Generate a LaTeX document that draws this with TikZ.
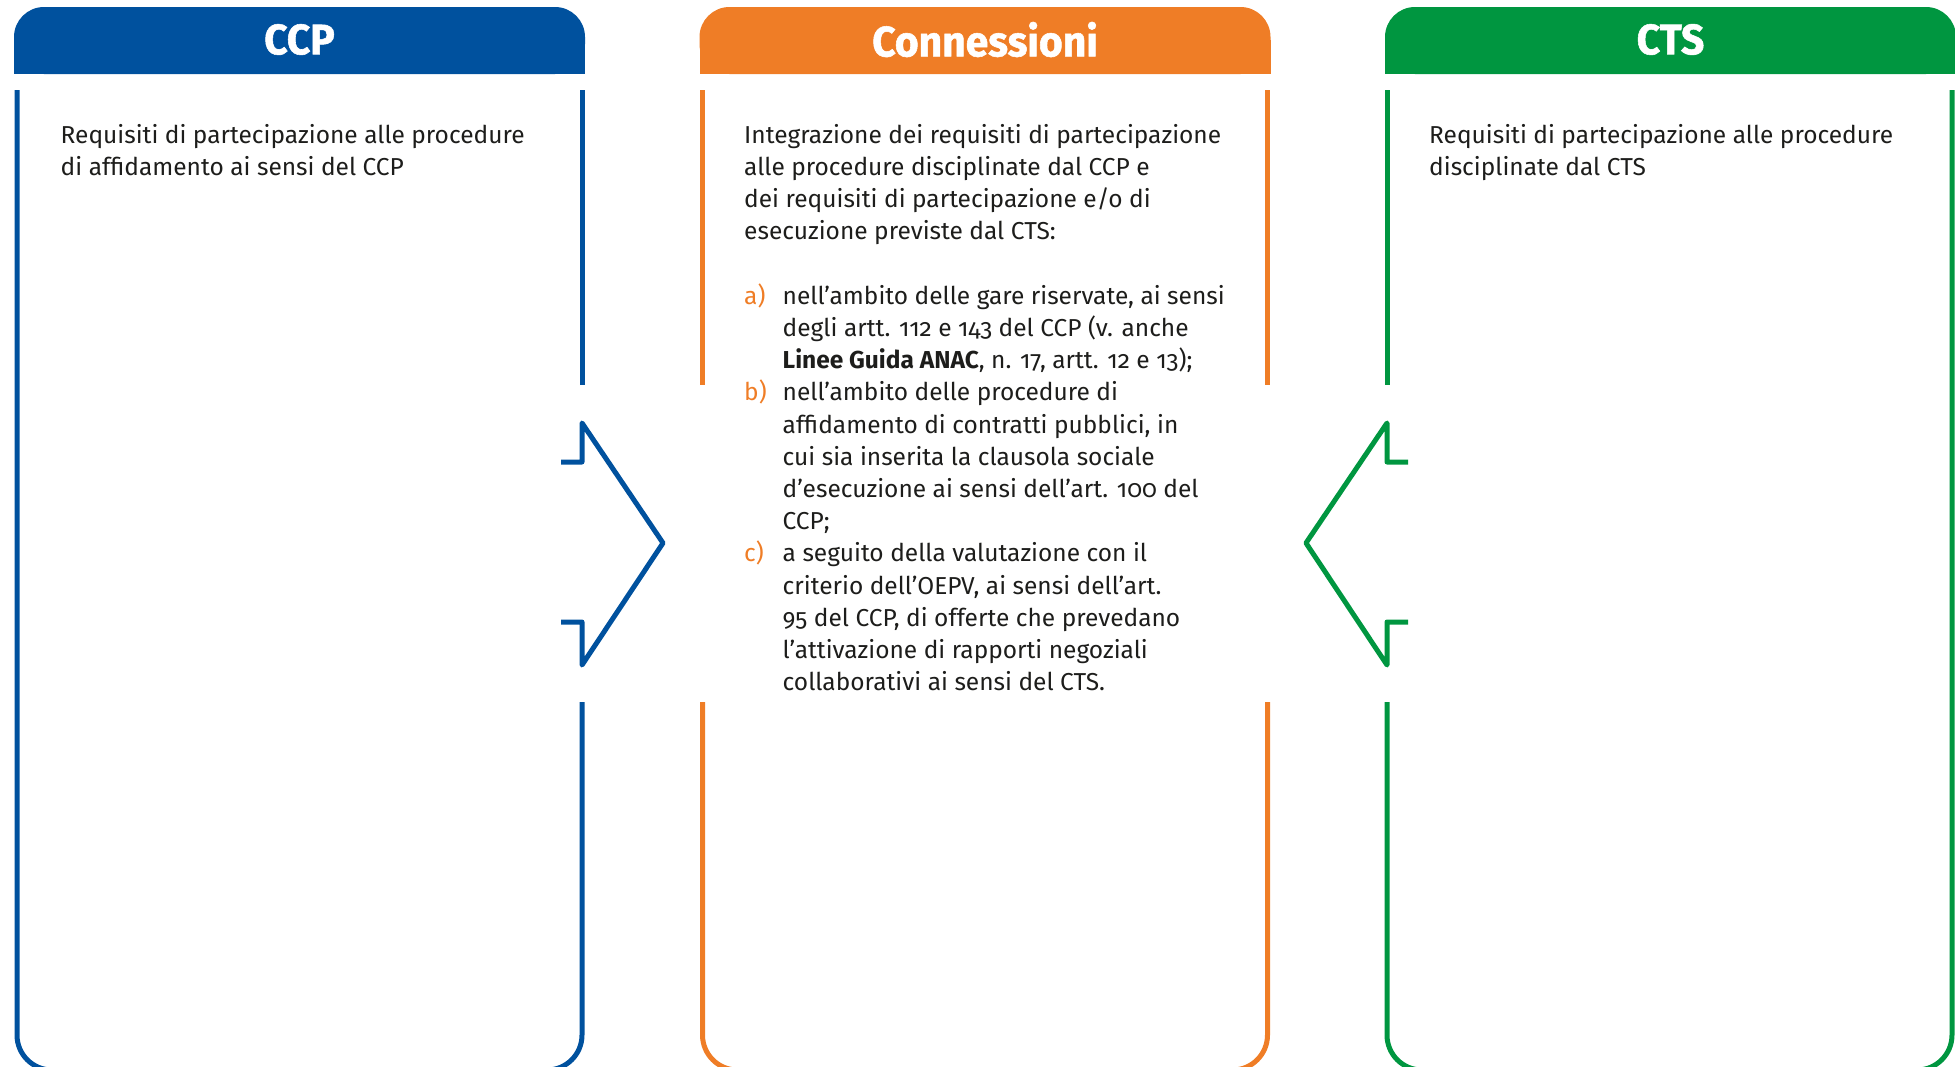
\documentclass[tikz,border=0pt]{standalone}
\usepackage{fontspec}
\setmainfont{Fira Sans}[Numbers=OldStyle]
\newfontfamily\headfont{Fira Sans}[BoldFeatures={FakeBold=1.3,FakeStretch=0.96}]
\usetikzlibrary{positioning}

\definecolor{ccpblue}{RGB}{0,81,158}
\definecolor{connorange}{RGB}{239,125,38}
\definecolor{ctsgreen}{RGB}{0,150,64}
\definecolor{bodytext}{RGB}{29,29,27}

\newcommand{\itemlbl}[1]{\makebox[38.5pt][l]{\color{connorange}#1}}
\newcommand{\itemind}{\hspace*{38.5pt}}

\tikzset{
  headtext/.style={text=white,font=\fontsize{42.5}{48}\headfont\bfseries,inner sep=0pt},
  bodytxt/.style={text=bodytext,font=\fontsize{24.5}{32.2}\selectfont,anchor=north west,align=left,inner sep=0pt},
  frame/.style={draw=#1,line width=5pt},
}

\begin{document}
\begin{tikzpicture}[x=1pt,y=-1pt]
        \useasboundingbox (0,0) rectangle (1955,1066);
        \clip (0,0) rectangle (1955,1066);

        % headers
        \fill[ccpblue,rounded corners=30pt] (14,7) rectangle (585,74);
        \fill[ccpblue] (14,40) rectangle (585,74);
        \fill[connorange,rounded corners=30pt] (699.5,7) rectangle (1270.5,74);
        \fill[connorange] (699.5,40) rectangle (1270.5,74);
        \fill[ctsgreen,rounded corners=30pt] (1385,7) rectangle (1956,74);
        \fill[ctsgreen] (1385,40) rectangle (1956,74);

        \node[headtext] (ccphead) at (299.5,39.5) {CCP};
        \node[headtext] (connhead) at (985,39.5) {Connessioni};
        \node[headtext] (ctshead) at (1670.5,39.5) {CTS};

        % frames
        \draw[frame=ccpblue,rounded corners=35pt] (17,90) -- (17,1070) -- (582,1070) -- (582,702);
        \draw[frame=ccpblue] (582,90) -- (582,385);
        \draw[frame=connorange,rounded corners=35pt] (702.5,702) -- (702.5,1070) -- (1267.5,1070) -- (1267.5,702);
        \draw[frame=connorange] (702.5,90) -- (702.5,385);
        \draw[frame=connorange] (1267.5,90) -- (1267.5,385);
        \draw[frame=ctsgreen,rounded corners=35pt] (1387,702) -- (1387,1070) -- (1952,1070) -- (1952,90);
        \draw[frame=ctsgreen] (1387,90) -- (1387,385);

        % arrows
        \draw[frame=ccpblue,line join=round] (561,462) -- (582,462) -- (582,423) -- (663,543) -- (582,665) -- (582,622) -- (561,622);
        \draw[frame=ctsgreen,line join=round] (1408,462) -- (1387,462) -- (1387,423) -- (1306,543) -- (1387,665) -- (1387,622) -- (1408,622);

        % texts
        \node[bodytxt] (ccptext) at (60.5,124) {Requisiti di partecipazione alle procedure\\
          di affidamento ai sensi del CCP};
        \node[bodytxt] (conntext) at (744,124) {Integrazione dei requisiti di partecipazione\\
          alle procedure disciplinate dal CCP e\\
          dei requisiti di partecipazione e/o di\\
          esecuzione previste dal CTS:\\[32.2pt]
          \itemlbl{a)}nell’ambito delle gare riservate, ai sensi\\
          \itemind degli artt. 112 e 143 del CCP (v. anche\\
          \itemind\textbf{Linee Guida ANAC}, n. 17, artt. 12 e 13);\\
          \itemlbl{b)}nell’ambito delle procedure di\\
          \itemind affidamento di contratti pubblici, in\\
          \itemind cui sia inserita la clausola sociale\\
          \itemind d’esecuzione ai sensi dell’art. 100 del\\
          \itemind CCP;\\
          \itemlbl{c)}a seguito della valutazione con il\\
          \itemind criterio dell’OEPV, ai sensi dell’art.\\
          \itemind 95 del CCP, di offerte che prevedano\\
          \itemind l’attivazione di rapporti negoziali\\
          \itemind collaborativi ai sensi del CTS.};
        \node[bodytxt] (ctstext) at (1429,124) {Requisiti di partecipazione alle procedure\\
          disciplinate dal CTS};
\end{tikzpicture}
\end{document}
